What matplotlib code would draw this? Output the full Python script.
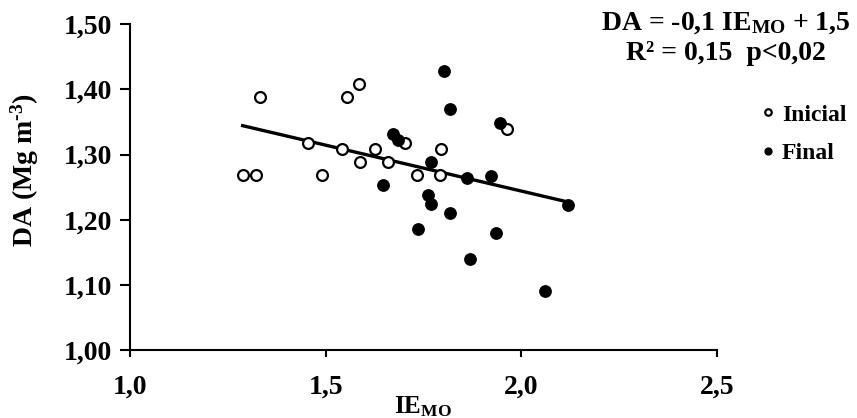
import matplotlib
matplotlib.use("Agg")
import matplotlib.pyplot as plt
import numpy as np

# Data
ie_inicial = [1.288, 1.322, 1.332, 1.456, 1.490, 1.541, 1.554, 1.586,
              1.588, 1.626, 1.659, 1.702, 1.735, 1.795, 1.793, 1.965]
da_inicial = [1.269, 1.269, 1.389, 1.318, 1.269, 1.308, 1.389, 1.408,
              1.289, 1.309, 1.289, 1.318, 1.269, 1.309, 1.269, 1.339]

ie_final = [1.646, 1.672, 1.686, 1.737, 1.769, 1.803, 1.818, 1.946, 1.861,
            1.922, 1.763, 1.770, 1.818, 1.936, 1.868, 2.061, 2.119]
da_final = [1.253, 1.331, 1.322, 1.185, 1.289, 1.428, 1.370, 1.349, 1.264,
            1.267, 1.238, 1.224, 1.211, 1.180, 1.140, 1.091, 1.222]

x_ticks = [1.0, 1.5, 2.0, 2.5]
x_tick_labels = ["1,0", "1,5", "2,0", "2,5"]
y_ticks = [1.00, 1.10, 1.20, 1.30, 1.40, 1.50]
y_tick_labels = ["1,00", "1,10", "1,20", "1,30", "1,40", "1,50"]

plt.rcParams['font.family'] = ['Liberation Serif', 'DejaVu Serif']
plt.rcParams['font.weight'] = 'bold'
plt.rcParams['mathtext.fontset'] = 'custom'
plt.rcParams['mathtext.rm'] = 'Liberation Serif:bold'
plt.rcParams['mathtext.bf'] = 'Liberation Serif:bold'
plt.rcParams['mathtext.it'] = 'Liberation Serif:bold'

fig = plt.figure(figsize=(8.57, 4.18), dpi=100)
ax = fig.add_axes([0.1517, 0.1627, 0.6846, 0.7792])

ax.plot(ie_inicial, da_inicial, 'o', mfc='white', mec='black', mew=1.6,
        ms=7.8, linestyle='none', label='Inicial', zorder=3)
ax.plot(ie_final, da_final, 'o', mfc='black', mec='black', mew=1.0,
        ms=8.2, linestyle='none', label='Final', zorder=3)

# Linear trend over all points
all_x = np.array(ie_inicial + ie_final)
all_y = np.array(da_inicial + da_final)
slope, intercept = np.polyfit(all_x, all_y, 1)
xs = np.array([all_x.min(), all_x.max()])
ax.plot(xs, slope * xs + intercept, color='black', linewidth=2.4, zorder=2)

ax.set_xlim(1.0, 2.5)
ax.set_ylim(1.0, 1.5)
ax.set_xticks(x_ticks)
ax.set_xticklabels(x_tick_labels)
ax.set_yticks(y_ticks)
ax.set_yticklabels(y_tick_labels)

for side in ['top', 'right']:
    ax.spines[side].set_visible(False)
for side in ['left', 'bottom']:
    ax.spines[side].set_linewidth(1.5)

ax.tick_params(axis='x', length=5, width=1.5, pad=13, labelsize=20)
ax.tick_params(axis='y', length=7, width=1.5, pad=6, labelsize=20)

ax.set_xlabel(r'IE$_{\mathbf{MO}}$', fontsize=18, fontweight='bold', labelpad=-4)
ax.set_ylabel(r'DA (Mg m$^{\text{-3}}$)', fontsize=20, fontweight='bold')
ax.yaxis.set_label_coords(-0.152, 0.553)

fig.text(0.847, 0.945, r'DA = -0,1 IE$_{\mathbf{MO}}$ + 1,5', ha='center',
         va='center', fontsize=20, fontweight='bold')
fig.text(0.847, 0.873, 'R² = 0,15  p<0,02', ha='center', va='center',
         fontsize=20, fontweight='bold')

ax.legend(loc='upper left', bbox_to_anchor=(0.875, 0.779),
          bbox_transform=fig.transFigure, frameon=False,
          markerscale=0.6, handlelength=0.5, handletextpad=0.35,
          labelspacing=0.72, borderpad=0, prop={'weight': 'bold', 'size': 17})

fig.savefig('out.png', dpi=100)
